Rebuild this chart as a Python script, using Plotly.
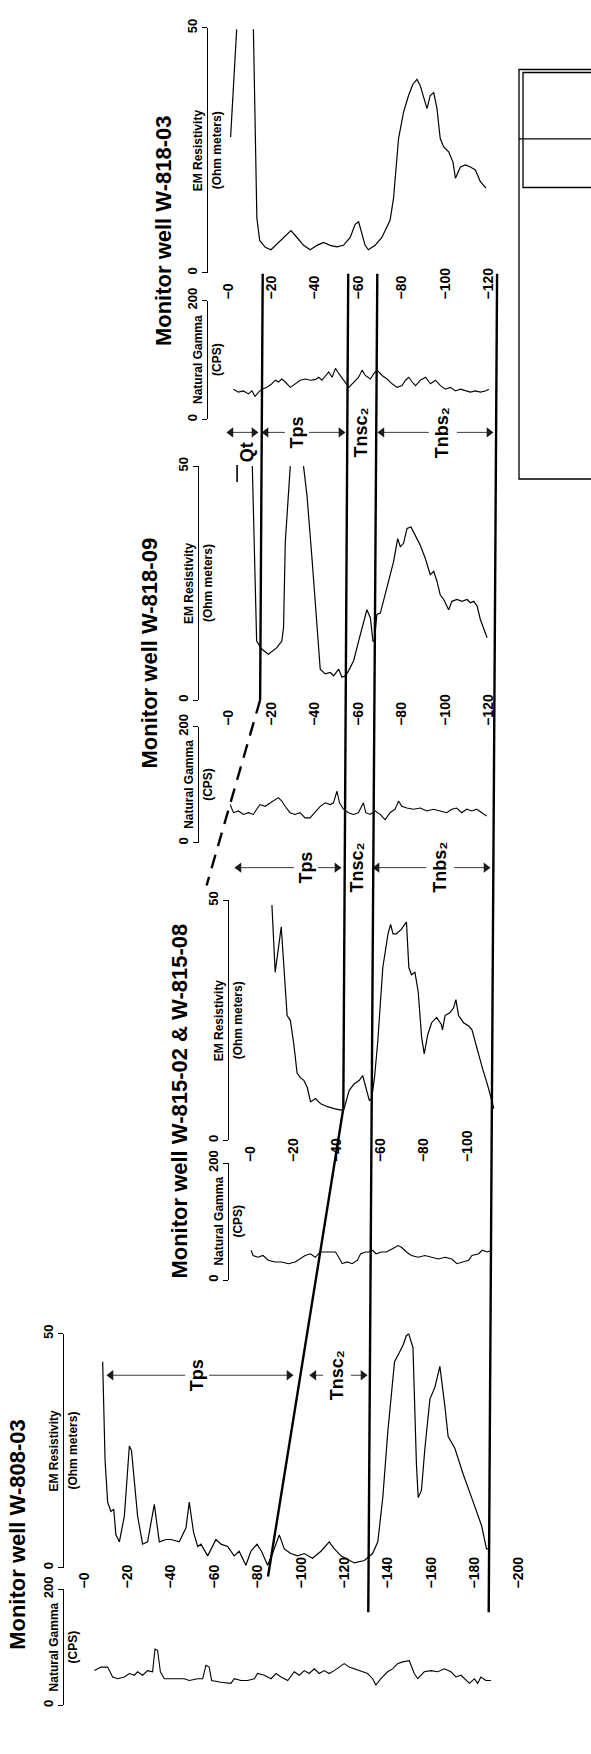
import plotly.graph_objects as go

# ======================= DATA =======================
# depth below ground (m, negative downward); None separates off-scale segments

W81803_GR_DEPTH = [-2.5, -4.8, -7.1, -9.4, -11.0, -12.5, -14.1, -15.6, -17.9, -20.2, -21.8, -23.3, -24.8, -26.4,
                   -28.7, -31.0, -33.3, -35.6, -37.9, -40.2, -41.8, -43.3, -44.9, -46.4, -48.0, -49.5, -51.1,
                   -53.4, -55.7, -58.0, -60.2, -61.8, -63.3, -65.6, -67.2, -68.7, -71.0, -73.3, -75.6, -77.9,
                   -80.2, -81.8, -83.3, -84.9, -86.4, -88.7, -91.0, -93.3, -95.6, -97.9, -100.2, -102.5, -104.8,
                   -107.1, -109.4, -111.7, -114.0, -116.3, -118.6, -120.2]
W81803_GR_CPS = [51, 46, 48, 43, 48, 39, 46, 51, 54, 60, 66, 63, 68, 63, 54, 60, 66, 68, 66, 67, 71, 66, 74, 80, 71,
                 86, 77, 66, 54, 63, 71, 83, 74, 68, 77, 83, 74, 68, 60, 54, 57, 66, 71, 63, 57, 66, 71, 60, 66, 57,
                 51, 54, 48, 51, 48, 46, 48, 46, 48, 51]
W81803_RES_DEPTH = [-1.2, -4.0, None, -11.7, -12.5, -13.3, -14.6, -17.2, -19.8, -22.6, -25.6, -29.0, -31.8, -34.8,
                    -37.9, -41.0, -44.0, -47.1, -50.2, -53.2, -56.3, -58.6, -60.2, -61.7, -63.2, -64.7, -67.8, -70.9,
                    -73.2, -74.7, -76.3, -78.6, -80.9, -83.2, -85.2, -87.1, -88.6, -90.2, -91.7, -93.2, -94.8, -96.3,
                    -97.8, -99.4, -101.7, -103.7, -104.8, -107.1, -109.4, -111.7, -114.0, -116.3, -118.9]
W81803_RES_OHM = [27.7, 49.7, None, 49.7, 26.0, 11.2, 6.6, 5.2, 4.7, 5.9, 7.2, 8.6, 7.2, 5.6, 4.7, 5.6, 6.2, 5.6,
                  5.3, 5.6, 7.2, 9.9, 10.4, 7.9, 5.6, 4.7, 5.6, 7.2, 9.2, 10.7, 15.3, 27.4, 32.8, 36.2, 38.5, 39.5,
                  38.2, 35.5, 33.5, 36.2, 36.8, 33.5, 27.4, 25.7, 24.7, 22.6, 19.3, 21.6, 22.0, 21.6, 21.0, 18.6, 17.3]

W81809_GR_DEPTH = [-1.0, -2.5, -4.8, -7.1, -9.4, -11.7, -13.2, -14.8, -17.1, -19.4, -21.7, -23.2, -24.8, -26.3,
                   -28.6, -30.9, -33.2, -35.5, -37.8, -40.1, -42.5, -44.8, -47.1, -48.6, -50.2, -51.4, -53.2, -55.5,
                   -57.8, -60.1, -62.4, -63.5, -65.5, -67.8, -70.1, -72.4, -74.7, -77.0, -78.6, -80.1, -82.4, -85.5,
                   -88.6, -91.6, -94.7, -97.8, -100.8, -103.1, -105.4, -107.7, -110.0, -112.3, -114.6, -117.0, -119.3]
W81809_GR_CPS = [66, 52, 55, 49, 52, 49, 58, 66, 63, 69, 75, 78, 72, 63, 52, 49, 52, 43, 43, 52, 63, 69, 66, 69, 89,
                 69, 58, 52, 49, 52, 69, 52, 49, 55, 49, 40, 52, 58, 72, 63, 60, 58, 60, 55, 58, 55, 52, 58, 60, 52,
                 58, 55, 58, 52, 46]
W81809_RES_DEPTH = [-11.2, -13.2, -15.5, -18.6, -22.5, -24.8, -25.6, -26.4, -28.7, None, -34.8, -36.4, -38.7, -41.0,
                    -42.5, -44.8, -47.1, -48.7, -51.0, -52.5, -54.1, -55.6, -57.9, -60.2, -61.7, -63.3, -64.0, -65.6,
                    -66.8, -67.4, -68.6, -70.2, -71.7, -74.0, -76.3, -78.2, -79.4, -80.9, -82.5, -84.3, -86.3, -88.6,
                    -90.9, -93.2, -94.8, -96.3, -97.8, -99.4, -101.7, -103.2, -105.5, -107.8, -110.2, -111.7, -113.2,
                    -114.8, -116.3, -117.8, -119.4]
W81809_RES_OHM = [50, 12.6, 10.9, 9.8, 11.2, 12.6, 15.5, 33.8, 50, None, 50, 43.7, 30.3, 16.2, 6.6, 5.6, 5.9, 5.2,
                  6.6, 4.9, 5.2, 6.3, 8.4, 12.6, 15.5, 18.3, 19.3, 17.6, 12.6, 12.6, 18.3, 18.6, 21.1, 25.4, 29.6,
                  34.5, 32.8, 33.5, 36.7, 37.0, 35.2, 33.1, 30.3, 26.8, 27.5, 25.4, 22.5, 21.5, 19.3, 21.1, 21.5,
                  21.1, 21.5, 20.8, 21.1, 20.1, 17.2, 15.5, 13.3]

W815_GR_DEPTH = [-0.5, -1.4, -3.7, -6.0, -8.4, -11.5, -14.6, -17.7, -20.8, -23.1, -25.4, -27.8, -30.1, -32.4, -33.9,
                 -36.3, -39.4, -40.9, -42.5, -44.8, -47.1, -49.5, -51.0, -53.3, -54.9, -56.4, -58.1, -60.5, -62.8,
                 -65.9, -68.2, -69.8, -72.1, -74.4, -77.5, -80.6, -83.7, -86.8, -89.9, -93.0, -95.3, -97.7, -100.8,
                 -102.3, -105.4, -107.0, -109.3, -111.6]
W815_GR_CPS = [51, 42, 39, 42, 34, 31, 31, 28, 31, 36, 42, 45, 39, 48, 48, 49, 48, 39, 28, 31, 28, 34, 45, 48, 48, 51,
               45, 48, 48, 54, 59, 56, 48, 42, 39, 42, 39, 36, 39, 36, 28, 31, 34, 42, 45, 51, 48, 51]
W815_RES_DEPTH = [-10.1, -11.6, -14.4, -15.5, -17.1, -18.6, -20.2, -21.7, -23.3, -24.8, -26.4, -27.9, -30.2, -32.6,
                  -35.7, -38.8, -41.9, -43.4, -45.7, -48.1, -50.4, -51.9, -53.5, -55.0, -56.1, -57.4, -58.9, -61.2,
                  -63.6, -64.8, -65.9, -67.4, -69.8, -72.1, -73.2, -74.4, -76.0, -77.5, -79.1, -80.3, -81.9, -83.7,
                  -86.0, -88.1, -88.7, -89.9, -92.2, -93.8, -94.9, -96.1, -98.4, -100.8, -102.3, -104.7, -107.0,
                  -109.3, -111.6, -112.4]
W815_RES_OHM = [49, 35, 44.5, 36.5, 26, 25, 20, 14, 13, 12.5, 11, 8, 8.7, 7.6, 7, 6.6, 6.3, 6.6, 10.4, 11.8, 12.5,
                13.5, 11, 8.3, 8.7, 13.2, 20.7, 36, 43, 45, 43, 43, 44, 45.5, 36, 34.5, 35, 31, 21.4, 18, 22, 24.5,
                25.6, 24.2, 23, 26, 26.6, 27.6, 29.3, 26, 24.5, 23.8, 23, 18.7, 15.2, 11.8, 8.3, 6.6]

W808_GR_DEPTH = [-4.8, -7.8, -10.9, -13.2, -15.5, -18.6, -20.9, -23.2, -24.7, -27.0, -29.3, -31.6, -32.7, -33.9,
                 -35.2, -37.0, -40.1, -43.1, -46.2, -48.5, -52.4, -54.7, -56.2, -57.7, -58.8, -63.1, -67.7, -69.3,
                 -72.3, -75.4, -78.5, -80.0, -83.1, -86.2, -88.5, -90.8, -93.9, -96.9, -99.2, -101.5, -103.8, -106.1,
                 -108.4, -110.7, -113.0, -115.3, -117.6, -119.9, -122.2, -124.6, -127.6, -130.7, -133.0, -134.5,
                 -136.8, -139.9, -142.2, -144.5, -146.8, -149.9, -152.2, -153.8, -156.8, -159.9, -163.0, -166.1,
                 -169.1, -171.4, -173.7, -176.0, -177.6, -179.9, -181.4, -182.9, -185.2, -187.5]
W808_GR_CPS = [60, 66, 66, 49, 46, 49, 55, 52, 58, 52, 60, 58, 97, 95, 58, 46, 46, 46, 46, 43, 46, 46, 69, 66, 43,
               40, 38, 46, 43, 43, 46, 55, 52, 46, 55, 49, 43, 58, 52, 60, 55, 63, 55, 60, 55, 60, 66, 72, 66, 63,
               60, 55, 46, 35, 46, 58, 63, 72, 75, 77, 55, 46, 58, 60, 58, 63, 58, 49, 52, 43, 38, 46, 38, 49, 43, 43]
W808_RES_DEPTH = [-8.6, -9.7, -10.9, -12.4, -13.7, -14.7, -16.3, -18.6, -20.9, -21.9, -24.7, -27.0, -29.3, -32.4,
                  -34.7, -37.8, -40.1, -43.9, -47.0, -48.5, -50.5, -52.4, -53.9, -57.0, -60.8, -63.1, -66.2, -69.2,
                  -71.5, -74.6, -76.9, -79.7, -81.8, -84.6, -86.9, -90.0, -92.3, -95.3, -98.4, -101.5, -105.3,
                  -109.2, -113.0, -115.4, -118.4, -124.6, -129.2, -133.0, -135.4, -137.7, -140.0, -143.1, -145.4,
                  -147.0, -148.5, -149.6, -151.6, -153.2, -154.0, -155.5, -157.1, -159.4, -161.7, -164.0, -166.3,
                  -167.8, -170.9, -174.7, -178.6, -183.2, -185.5, -187.0]
W808_RES_OHM = [44, 23, 14, 12, 12.5, 7, 5.5, 11, 26, 25, 11, 5, 5.5, 13.5, 5.5, 6, 6, 5.5, 8.5, 14, 7.5, 4.5, 5,
                2.5, 6, 5, 4.5, 2.5, 3.5, 0.5, 3.5, 5, 3.5, 0.5, 3, 7, 4, 3, 2.5, 3, 2, 3.5, 5.5, 4, 2.5, 1, 1.5, 3,
                5.5, 15, 29, 44, 46, 47.5, 49.5, 50, 47, 22, 15, 16.5, 25.5, 36, 38.5, 43, 34.5, 28, 25.5, 20, 15, 9,
                4, 4]

DEPTH_TICKS_W81803 = [0, -20, -40, -60, -80, -100, -120]
DEPTH_TICKS_W81809 = [0, -20, -40, -60, -80, -100, -120]
DEPTH_TICKS_W815 = [0, -20, -40, -60, -80, -100]
DEPTH_TICKS_W808 = [0, -20, -40, -60, -80, -100, -120, -140, -160, -180, -200]

WELL_TITLES = ["Monitor well W-818-03", "Monitor well W-818-09",
               "Monitor well W-815-02 & W-815-08", "Monitor well W-808-03"]

# contacts (depth in each well, m); W-815 top value is the projection above ground
QT_BASE_WELLS = ["W-818-03", "W-818-09"]
QT_BASE_DEPTH = [-16.0, -14.8]
QT_BASE_PROJ_WELLS = ["W-818-09", "W-815"]
QT_BASE_PROJ_DEPTH = [-14.8, 20.0]
TPS_BASE_WELLS = ["W-818-03", "W-815", "W-808"]
TPS_BASE_DEPTH = [-55.4, -43.0, -84.8]
TNSC2_BASE_WELLS = ["W-818-03", "W-808"]
TNSC2_BASE_DEPTH = [-68.8, -131.0]
TNBS2_BASE_WELLS = ["W-818-03", "W-808"]
TNBS2_BASE_DEPTH = [-124.0, -186.5]

# zone annotations: (label, arrow top depth, arrow bottom depth, label depth)
ZONES_W81809 = [("Tps", -15.7, -53.9, -31.8), ("Tnsc\u2082", None, None, -61.3),
                ("Tnbs\u2082", -69.1, -122.1, -99.0)]
ZONES_W815 = [("Tps", 6.9, -41.9, -25.8), ("Tnsc\u2082", None, None, -49.3),
              ("Tnbs\u2082", -56.7, -110.6, -87.6)]
ZONES_W808 = [("Tps", -10.6, -96.3, -52.1), ("Tnsc\u2082", -104.1, -130.4, -116.6)]
QT_ZONE_W81809 = (0.5, -13.8, -8.8)   # arrow top, arrow bottom, label depth

# ======================= LAYOUT GEOMETRY (pixels) =======================
W, H = 591, 1754
S = 2.17  # pixels per metre along the depth direction
FONT = "Liberation Sans, Arial, Helvetica, DejaVu Sans, sans-serif"
ARROW_COLOR = "#3c3c3c"

WELLS = ["W-818-03", "W-818-09", "W-815", "W-808"]
GEOM = {
    "W-818-03": dict(x0=228, res=(15, 262), gr=(290, 410), ax=207, tx=163, ty=220, band=None),
    "W-818-09": dict(x0=228, res=(457, 693), gr=(720, 837), ax=198, tx=149, ty=646, band=423),
    "W-815": dict(x0=250, res=(895, 1137), gr=(1160, 1278), ax=228, tx=180, ty=1098, band=862),
    "W-808": dict(x0=84, res=(1332, 1568), gr=(1590, 1707), ax=63, tx=18, ty=1535, band=1374),
}
CURVES = {
    "W-818-03": (W81803_RES_DEPTH, W81803_RES_OHM, W81803_GR_DEPTH, W81803_GR_CPS, DEPTH_TICKS_W81803),
    "W-818-09": (W81809_RES_DEPTH, W81809_RES_OHM, W81809_GR_DEPTH, W81809_GR_CPS, DEPTH_TICKS_W81809),
    "W-815": (W815_RES_DEPTH, W815_RES_OHM, W815_GR_DEPTH, W815_GR_CPS, DEPTH_TICKS_W815),
    "W-808": (W808_RES_DEPTH, W808_RES_OHM, W808_GR_DEPTH, W808_GR_CPS, DEPTH_TICKS_W808),
}
ZONES = {"W-818-09": ZONES_W81809, "W-815": ZONES_W815, "W-808": ZONES_W808}


def yp(py):
    return 1 - py / H


def px_of(well, d):
    return GEOM[well]["x0"] - S * d


def d_of(well, px):
    return (GEOM[well]["x0"] - px) / S


def aid(n):
    return "" if n == 1 else str(n)


fig = go.Figure()
lay = {}
ann = []
shapes = []
xref_of = {}
band_axis = {}

for i, w in enumerate(WELLS):
    g = GEOM[w]
    rd, rv, gd, gv, ticks = CURVES[w]
    rn, gn = 2 * i + 1, 2 * i + 2
    rng = [g["x0"] / S, (g["x0"] - W) / S]
    xref_of[w] = "x" + aid(gn)
    yax_common = dict(anchor="free", position=g["ax"] / W, side="left", showline=True, linecolor="black",
                      linewidth=1.3, ticks="outside", ticklen=5, tickwidth=1.3, tickcolor="black",
                      tickangle=-90, showgrid=False, zeroline=False,
                      tickfont=dict(family=FONT, size=13, color="black", weight="bold"))
    lay["xaxis" + aid(rn)] = dict(domain=[0, 1], range=rng, anchor="y" + aid(rn), visible=False)
    lay["yaxis" + aid(rn)] = dict(domain=[yp(g["res"][1]), yp(g["res"][0])], range=[0, 50],
                                  tickvals=[0, 50], ticktext=["0", "50"], **yax_common)
    lay["xaxis" + aid(gn)] = dict(domain=[0, 1], range=rng, anchor="y" + aid(gn), side="top",
                                  tickvals=ticks, ticktext=["\u2212" + str(abs(t)) for t in ticks],
                                  tickangle=-90, ticks="", showline=False, showgrid=False, zeroline=False,
                                  tickfont=dict(family=FONT, size=14, color="black", weight="bold"))
    lay["yaxis" + aid(gn)] = dict(domain=[yp(g["gr"][1]), yp(g["gr"][0])], range=[0, 200],
                                  tickvals=[0, 200], ticktext=["0", "200"], **yax_common)

    fig.add_trace(go.Scatter(x=rd, y=rv, mode="lines", line=dict(color="black", width=1.2),
                             xaxis="x" + aid(rn), yaxis="y" + aid(rn), hoverinfo="skip", connectgaps=False))
    fig.add_trace(go.Scatter(x=gd, y=gv, mode="lines", line=dict(color="black", width=1.1),
                             xaxis="x" + aid(gn), yaxis="y" + aid(gn), hoverinfo="skip"))

    # zone-label band axis (hidden) used for the arrows
    if g["band"] is not None:
        bn = 9 + len(band_axis)
        band_axis[w] = "y" + aid(bn)
        lay["yaxis" + aid(bn)] = dict(domain=[yp(g["band"] + 8), yp(g["band"] - 8)], range=[0, 1],
                                      visible=False, anchor="free", position=0)

    # well title
    ann.append(dict(text=WELL_TITLES[i], x=g["tx"] / W, y=yp(g["ty"]), xref="paper", yref="paper",
                    textangle=-90, showarrow=False, xanchor="center", yanchor="middle",
                    font=dict(family=FONT, size=22, color="black", weight="bold")))
    # track titles
    for txt, dx, yr, yv in [("Natural Gamma", -9, "y" + aid(gn), 100), ("(CPS)", 10, "y" + aid(gn), 100),
                            ("EM Resistivity", -9, "y" + aid(rn), 25), ("(Ohm meters)", 10, "y" + aid(rn), 25)]:
        ann.append(dict(text=txt, x=(g["ax"] + dx) / W, y=yv, xref="paper", yref=yr, textangle=-90,
                        showarrow=False, xanchor="center", yanchor="middle",
                        font=dict(family=FONT, size=12, color="black", weight="bold")))


def add_arrow(well, d_tail, d_tip, both=False):
    """thin shaft from d_tail to d_tip with a solid triangular head at the tip"""
    tip_px, tail_px = px_of(well, d_tip), px_of(well, d_tail)
    sgn = 1 if tip_px > tail_px else -1
    fig.add_trace(go.Scatter(x=[d_tail, d_tip], y=[0.5, 0.5], mode="lines",
                             line=dict(color=ARROW_COLOR, width=1),
                             xaxis=xref_of[well], yaxis=band_axis[well], hoverinfo="skip"))
    heads_x = [d_of(well, tip_px - sgn * 4)]
    heads_s = ["triangle-right" if sgn > 0 else "triangle-left"]
    if both:
        heads_x.append(d_of(well, tail_px + sgn * 4))
        heads_s.append("triangle-left" if sgn > 0 else "triangle-right")
    fig.add_trace(go.Scatter(x=heads_x, y=[0.5] * len(heads_x), mode="markers",
                             marker=dict(symbol=heads_s, size=9, color="#1a1a1a", line=dict(width=0)),
                             xaxis=xref_of[well], yaxis=band_axis[well], hoverinfo="skip"))


# ---------------- zone labels with arrows ----------------
for w, zl in ZONES.items():
    g = GEOM[w]
    yb = yp(g["band"])
    for label, top, bot, td in zl:
        ann.append(dict(text=label, x=td, y=yb, xref=xref_of[w], yref="paper", textangle=-90, showarrow=False,
                        xanchor="center", yanchor="middle",
                        font=dict(family=FONT, size=18, color="black", weight="bold")))
        if top is None:
            continue
        gap = 14 if "\u2082" in label else 12
        tpx = px_of(w, td)
        add_arrow(w, d_of(w, tpx - gap), top)
        add_arrow(w, d_of(w, tpx + gap), bot)

qt_top, qt_bot, qt_lab = QT_ZONE_W81809
add_arrow("W-818-09", qt_bot, qt_top, both=True)
ann.append(dict(text="Qt", x=qt_lab, y=yp(443), xref=xref_of["W-818-09"], yref="paper", textangle=-90,
                showarrow=False, xanchor="center", yanchor="middle",
                font=dict(family=FONT, size=18, color="black", weight="bold")))
shapes.append(dict(type="line", xref=xref_of["W-818-09"], yref="paper", x0=qt_lab + 4.6, x1=qt_lab + 4.6,
                   y0=yp(456), y1=yp(473), line=dict(color="black", width=1.6)))

# ---------------- correlation lines (drawn on the W-808 depth axis) ----------------
REF = "W-808"


def to_ref(well, d):
    return d - (GEOM[well]["x0"] - GEOM[REF]["x0"]) / S


def add_poly(wells, depths, ys, dash="solid", width=2.4):
    for k in range(len(wells) - 1):
        shapes.append(dict(type="line", xref=xref_of[REF], yref="paper",
                           x0=to_ref(wells[k], depths[k]), x1=to_ref(wells[k + 1], depths[k + 1]),
                           y0=yp(ys[k]), y1=yp(ys[k + 1]),
                           line=dict(color="black", width=width, dash=dash)))


add_poly(QT_BASE_WELLS, QT_BASE_DEPTH, [263, 693])
add_poly(QT_BASE_PROJ_WELLS, QT_BASE_PROJ_DEPTH, [693, 880], dash="14px,9px")
add_poly(TPS_BASE_WELLS, TPS_BASE_DEPTH, [263, 1105, 1577])
add_poly(TNSC2_BASE_WELLS, TNSC2_BASE_DEPTH, [263, 1613])
add_poly(TNBS2_BASE_WELLS, TNBS2_BASE_DEPTH, [263, 1613])

# ---------------- partial table frame at right edge ----------------
BOX = dict(xref="paper", yref="paper", line=dict(color="black", width=1.3), fillcolor="rgba(0,0,0,0)")
shapes.append(dict(type="rect", x0=519 / W, x1=1.05, y0=yp(470), y1=yp(57), **BOX))
shapes.append(dict(type="rect", x0=523 / W, x1=1.05, y0=yp(176), y1=yp(60), **BOX))
shapes.append(dict(type="line", x0=519 / W, x1=1.05, y0=yp(127), y1=yp(127), xref="paper", yref="paper",
                   line=dict(color="black", width=1.2)))

lay.update(dict(width=W, height=H, margin=dict(l=0, r=0, t=0, b=0), autosize=False,
                paper_bgcolor="white", plot_bgcolor="rgba(0,0,0,0)", showlegend=False, hovermode=False,
                annotations=ann, shapes=shapes))
fig.update_layout(**lay)
fig.write_html("out.html")
